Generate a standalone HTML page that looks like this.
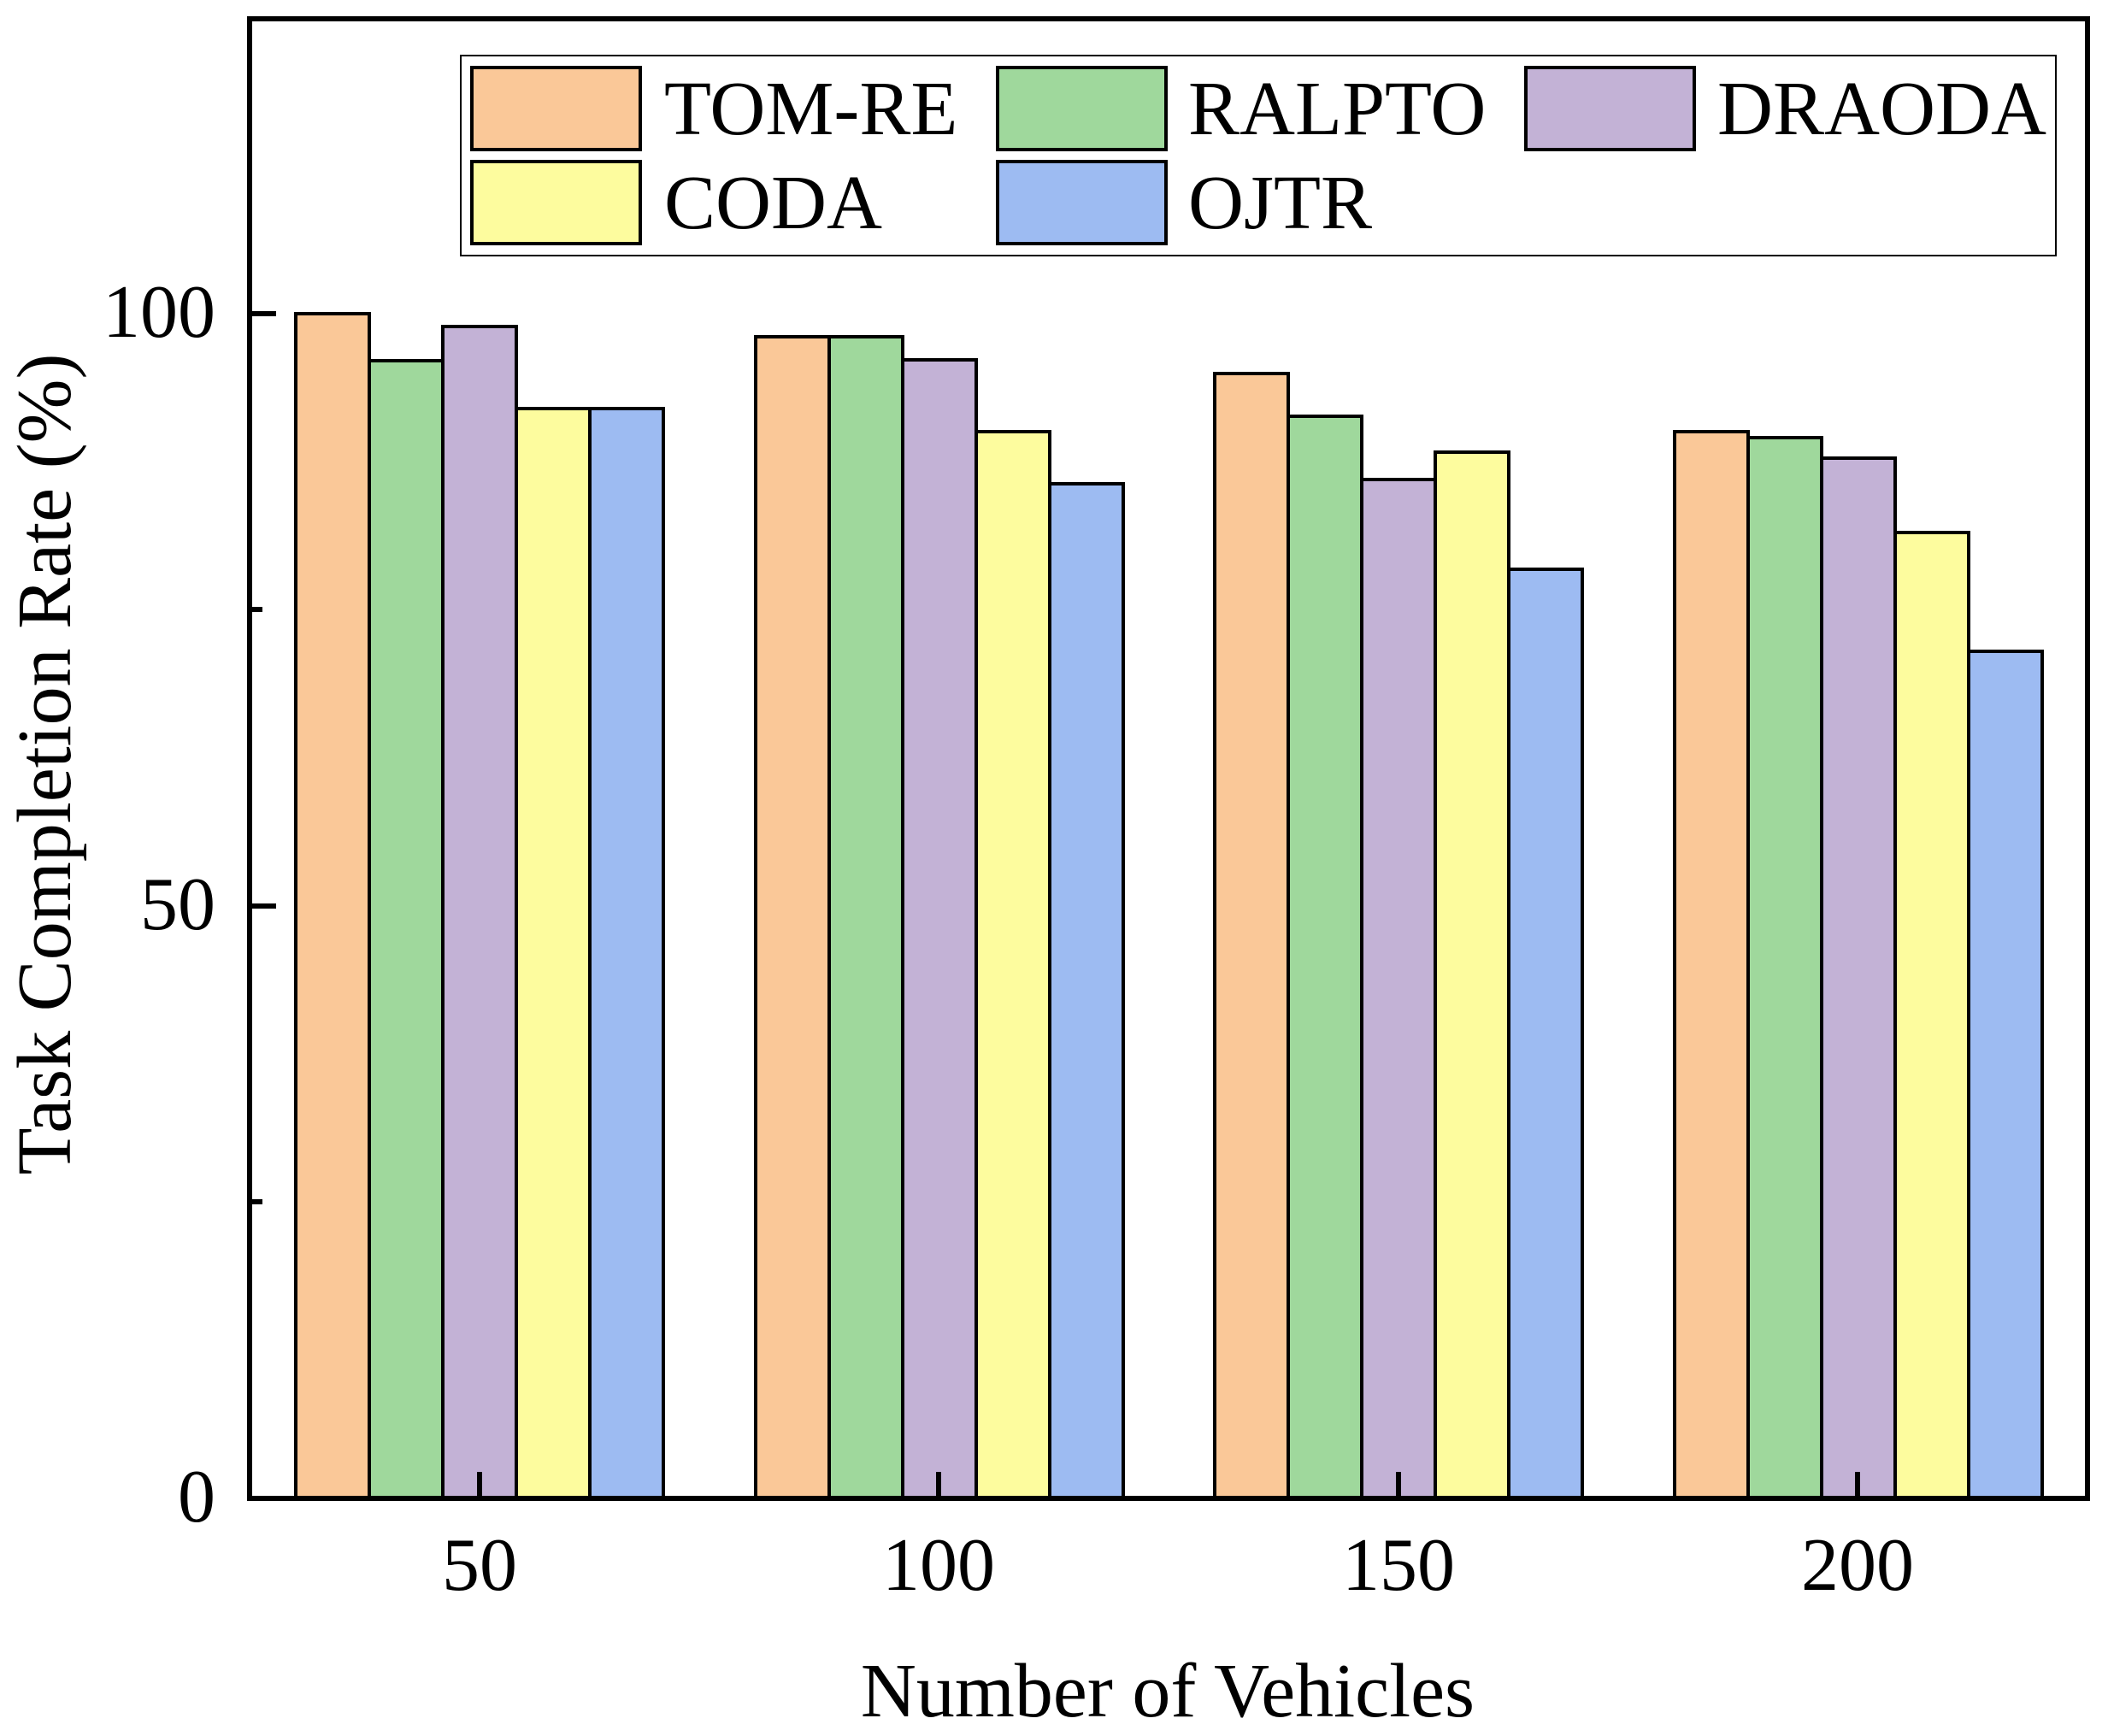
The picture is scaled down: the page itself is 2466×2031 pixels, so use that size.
<!DOCTYPE html>
<html><head><meta charset="utf-8"><style>html,body{margin:0;padding:0;background:#fff}svg{display:block}</style></head>
<body>
<svg width="2466" height="2031" viewBox="0 0 2466 2031" xmlns="http://www.w3.org/2000/svg" font-family="Liberation Serif, serif">
<rect width="2466" height="2031" fill="#fff"/>
<g stroke="#000" stroke-width="4">
<!-- group 50 -->
<rect x="346" y="367" width="86" height="1385" fill="#FAC898"/>
<rect x="432" y="422" width="86" height="1330" fill="#9FD89C"/>
<rect x="518" y="382" width="86" height="1370" fill="#C3B2D6"/>
<rect x="604" y="478" width="86" height="1274" fill="#FDFC9E"/>
<rect x="690" y="478" width="86" height="1274" fill="#9DBBF2"/>
<!-- group 100 -->
<rect x="884" y="394" width="86" height="1358" fill="#FAC898"/>
<rect x="970" y="394" width="86" height="1358" fill="#9FD89C"/>
<rect x="1056" y="421" width="86" height="1331" fill="#C3B2D6"/>
<rect x="1142" y="505" width="86" height="1247" fill="#FDFC9E"/>
<rect x="1228" y="566" width="86" height="1186" fill="#9DBBF2"/>
<!-- group 150 -->
<rect x="1421" y="437" width="86" height="1315" fill="#FAC898"/>
<rect x="1507" y="487" width="86" height="1265" fill="#9FD89C"/>
<rect x="1593" y="561" width="86" height="1191" fill="#C3B2D6"/>
<rect x="1679" y="529" width="86" height="1223" fill="#FDFC9E"/>
<rect x="1765" y="666" width="86" height="1086" fill="#9DBBF2"/>
<!-- group 200 -->
<rect x="1959" y="505" width="86" height="1247" fill="#FAC898"/>
<rect x="2045" y="512" width="86" height="1240" fill="#9FD89C"/>
<rect x="2131" y="536" width="86" height="1216" fill="#C3B2D6"/>
<rect x="2217" y="623" width="86" height="1129" fill="#FDFC9E"/>
<rect x="2303" y="762" width="86" height="990" fill="#9DBBF2"/>
</g>
<!-- axes -->
<rect x="292" y="22" width="2150" height="1731" fill="none" stroke="#000" stroke-width="6"/>
<g stroke="#000" stroke-width="6">
<line x1="292" y1="367" x2="323" y2="367"/>
<line x1="292" y1="1060" x2="323" y2="1060"/>
<line x1="292" y1="713" x2="307" y2="713"/>
<line x1="292" y1="1406" x2="307" y2="1406"/>
<line x1="561" y1="1753" x2="561" y2="1722"/>
<line x1="1098" y1="1753" x2="1098" y2="1722"/>
<line x1="1636" y1="1753" x2="1636" y2="1722"/>
<line x1="2173" y1="1753" x2="2173" y2="1722"/>
</g>
<g font-size="88" fill="#000">
<text x="252" y="394" text-anchor="end">100</text>
<text x="252" y="1087" text-anchor="end">50</text>
<text x="252" y="1780" text-anchor="end">0</text>
<text x="561" y="1860" text-anchor="middle">50</text>
<text x="1098" y="1860" text-anchor="middle">100</text>
<text x="1636" y="1860" text-anchor="middle">150</text>
<text x="2173" y="1860" text-anchor="middle">200</text>
</g>
<text x="1366" y="2008" text-anchor="middle" font-size="90">Number of Vehicles</text>
<text transform="translate(82,894) rotate(-90)" text-anchor="middle" font-size="90">Task Completion Rate (%)</text>
<!-- legend -->
<rect x="539" y="65" width="1866" height="234" fill="#fff" stroke="#000" stroke-width="2"/>
<g stroke="#000" stroke-width="4">
<rect x="552" y="79" width="197" height="96" fill="#FAC898"/>
<rect x="1167" y="79" width="197" height="96" fill="#9FD89C"/>
<rect x="1785" y="79" width="197" height="96" fill="#C3B2D6"/>
<rect x="552" y="189" width="197" height="96" fill="#FDFC9E"/>
<rect x="1167" y="189" width="197" height="96" fill="#9DBBF2"/>
</g>
<g font-size="90" fill="#000">
<text x="777" y="157">TOM-RE</text>
<text x="1390" y="157">RALPTO</text>
<text x="2009" y="157">DRAODA</text>
<text x="777" y="267">CODA</text>
<text x="1390" y="267">OJTR</text>
</g>
</svg>
</body></html>
